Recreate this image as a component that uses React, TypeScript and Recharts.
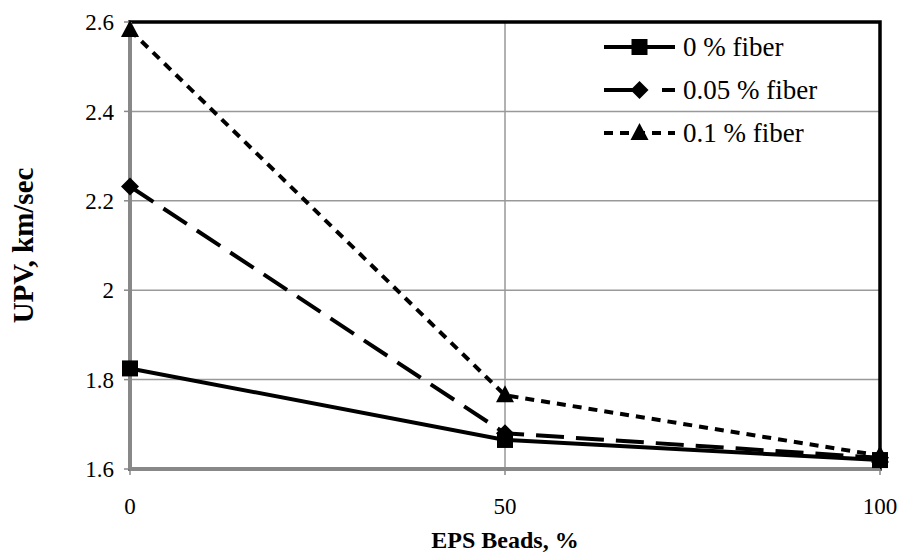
import React from 'react';
import { LineChart, Line, XAxis, YAxis, CartesianGrid, ReferenceArea, Legend } from 'recharts';

const xValues = [0, 50, 100];
const fiber0 = [1.825, 1.665, 1.62];
const fiber005 = [2.232, 1.68, 1.625];
const fiber01 = [2.582, 1.765, 1.63];
const seriesNames = ['0 % fiber', '0.05 % fiber', '0.1 % fiber'];
const yTicks = [1.6, 1.8, 2, 2.2, 2.4, 2.6];
const xTicks = [0, 50, 100];

const data = xValues.map((x, i) => ({ x, s0: fiber0[i], s1: fiber005[i], s2: fiber01[i] }));

const FONT = '"Liberation Serif", serif';
const DASH_LONG = '28 12';
const DASH_SHORT = '9 7';

const squareAt = (cx: number, cy: number, key?: any) => (
  <rect key={key} x={cx - 8} y={cy - 8} width={16} height={16} fill="#000" />
);
const diamondAt = (cx: number, cy: number, key?: any) => (
  <polygon key={key} points={`${cx},${cy - 9} ${cx + 9},${cy} ${cx},${cy + 9} ${cx - 9},${cy}`} fill="#000" />
);
const triangleAt = (cx: number, cy: number, key?: any) => (
  <polygon key={key} points={`${cx},${cy - 10} ${cx + 9},${cy + 7} ${cx - 9},${cy + 7}`} fill="#000" />
);

const markers = [squareAt, diamondAt, triangleAt];
const legendDashes = [undefined, '40 18 13 100', '9 7'];

const makeDot = (idx: number) => (props: any) => {
  const { cx, cy, index } = props;
  if (cx == null || cy == null) return <g key={`d${idx}-${index}`} />;
  return markers[idx](cx, cy, `d${idx}-${index}`);
};

const LegendBox = () => (
  <svg width={290} height={140} style={{ display: 'block', overflow: 'visible' }}>
    {seriesNames.map((name, i) => {
      const y = 25 + i * 43;
      return (
        <g key={name}>
          <line x1={4} y1={y} x2={75} y2={y} stroke="#000" strokeWidth={4} strokeDasharray={legendDashes[i]} />
          {markers[i](39.5, y)}
          <text x={83} y={y} dominantBaseline="central" fontFamily={FONT} fontSize={27} fill="#000">
            {name}
          </text>
        </g>
      );
    })}
  </svg>
);

const YTitle = (props: any) => {
  const { viewBox } = props;
  const cx = viewBox.x - 47;
  const cy = viewBox.y + viewBox.height / 2;
  return (
    <text x={cx} y={cy} transform={`rotate(-90, ${cx}, ${cy})`} textAnchor="middle" dominantBaseline="central"
      fontFamily={FONT} fontWeight="bold" fontSize={29} fill="#000">
      UPV, km/sec
    </text>
  );
};

const XTitle = (props: any) => {
  const { viewBox } = props;
  const cx = viewBox.x + viewBox.width / 2;
  const cy = viewBox.y + 71;
  return (
    <text x={cx} y={cy} textAnchor="middle" dominantBaseline="central"
      fontFamily={FONT} fontWeight="bold" fontSize={24} fill="#000">
      EPS Beads, %
    </text>
  );
};

export default function App() {
  return (
    <div style={{ position: 'absolute', left: 0, top: 0, width: 902, height: 556, background: '#fff' }}>
      <LineChart width={902} height={556} data={data} margin={{ top: 22, right: 22, left: 70, bottom: 47 }}>
        <CartesianGrid stroke="#999" strokeWidth={1.5} horizontal vertical />
        <XAxis
          type="number"
          dataKey="x"
          domain={[0, 100]}
          ticks={xTicks}
          height={40}
          stroke="#888"
          strokeWidth={4}
          tickSize={6}
          tickMargin={23}
          tickLine={{ stroke: '#888', strokeWidth: 1.5 }}
          tick={{ fill: '#000', fontSize: 23, fontFamily: FONT }}
          label={<XTitle />}
        />
        <YAxis
          type="number"
          domain={[1.6, 2.6]}
          ticks={yTicks}
          width={60}
          stroke="#888"
          strokeWidth={4}
          tickSize={6}
          tickMargin={10}
          tickLine={{ stroke: '#888', strokeWidth: 1.5 }}
          tick={{ fill: '#000', fontSize: 23, fontFamily: FONT }}
          tickFormatter={(v: number) => String(Number(v.toFixed(1)))}
          label={<YTitle />}
        />
        <ReferenceArea x1={0} x2={100} y1={1.6} y2={2.6} fill="none" fillOpacity={0} stroke="#000" strokeWidth={3.5} />
        <Legend
          layout="horizontal"
          verticalAlign="middle"
          align="center"
          content={() => <LegendBox />}
          wrapperStyle={{ position: 'absolute', left: 600, top: 22, width: 290, height: 140 }}
        />
        <Line type="linear" dataKey="s0" name={seriesNames[0]} stroke="#000" strokeWidth={4}
          dot={makeDot(0)} activeDot={false} isAnimationActive={false} />
        <Line type="linear" dataKey="s1" name={seriesNames[1]} stroke="#000" strokeWidth={4}
          strokeDasharray={DASH_LONG} dot={makeDot(1)} activeDot={false} isAnimationActive={false} />
        <Line type="linear" dataKey="s2" name={seriesNames[2]} stroke="#000" strokeWidth={4}
          strokeDasharray={DASH_SHORT} dot={makeDot(2)} activeDot={false} isAnimationActive={false} />
      </LineChart>
    </div>
  );
}
